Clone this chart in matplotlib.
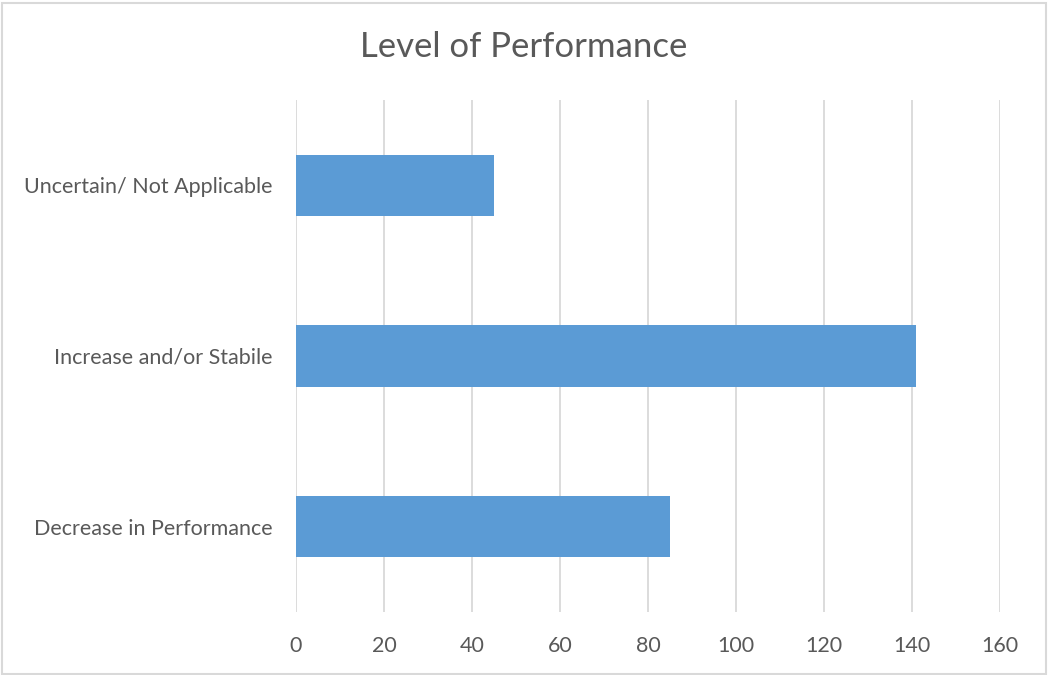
import matplotlib.pyplot as plt
from matplotlib.patches import Rectangle

plt.rcParams['font.family'] = ['Lato', 'DejaVu Sans']

categories = ['Decrease in Performance', 'Increase and/or Stabile', 'Uncertain/ Not Applicable']
counts = [85, 141, 45]
xticks = [0, 20, 40, 60, 80, 100, 120, 140, 160]

text_col = '#595959'
grid_col = '#D9D9D9'

fig = plt.figure(figsize=(10.48, 6.75), dpi=100)
ax = fig.add_axes([0.2824, 0.0933, 0.6718, 0.7586])

ax.barh(range(len(categories)), counts, height=0.36, color='#5B9BD5', zorder=3)
ax.set_ylim(-0.5, len(categories) - 0.5)
ax.set_xlim(0, 160)
ax.set_xticks(xticks)
ax.set_yticks(range(len(categories)))
ax.set_yticklabels(categories)

ax.grid(axis='x', color=grid_col, linewidth=1.3, zorder=0)
for s in ax.spines.values():
    s.set_visible(False)
ax.tick_params(axis='both', length=0, labelsize=15.5, colors=text_col)
ax.tick_params(axis='x', pad=17)
ax.tick_params(axis='y', pad=17)

fig.suptitle('Level of Performance', fontsize=25, color=text_col, y=0.93, va='center')

# light frame around the chart area
fig.patches.append(Rectangle((0.002, 0.002), 0.996, 0.994, transform=fig.transFigure,
                             fill=False, edgecolor='#D9D9D9', linewidth=1.5))

fig.savefig('out.png', dpi=100)
